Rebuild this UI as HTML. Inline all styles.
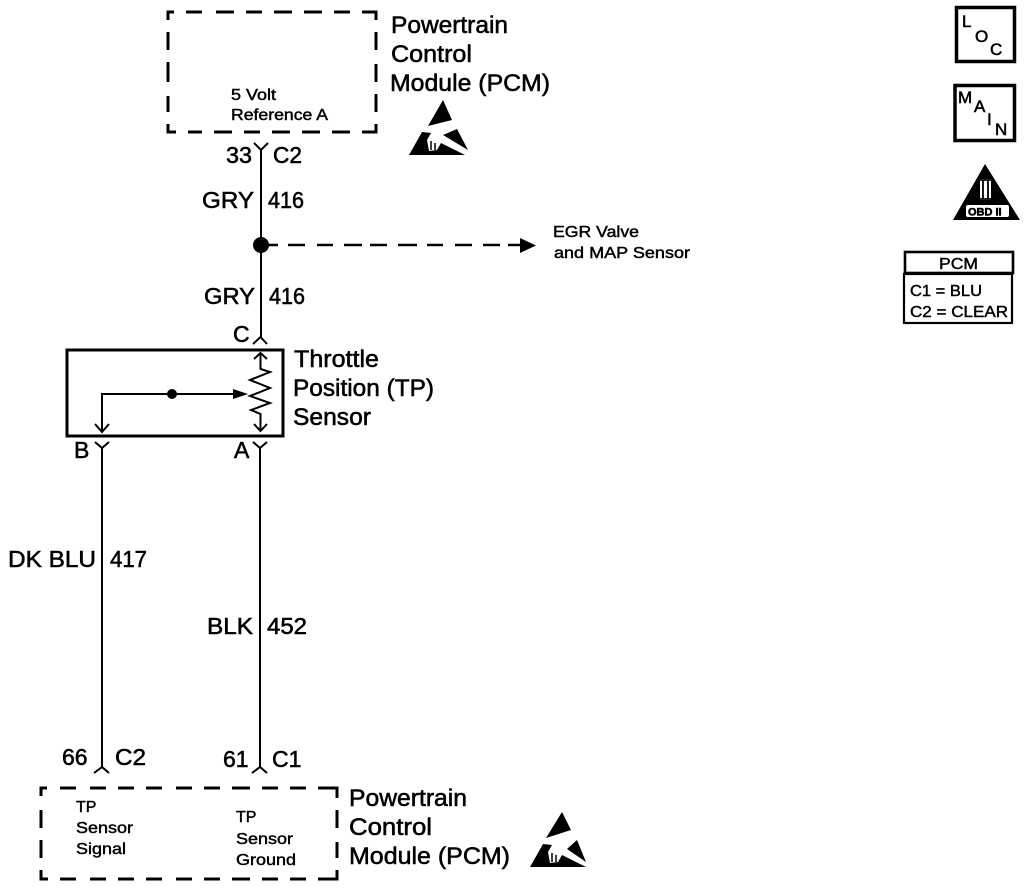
<!DOCTYPE html>
<html><head><meta charset="utf-8"><style>
html,body{margin:0;padding:0;background:#fff}
svg{display:block}
text{font-family:"Liberation Sans",sans-serif;fill:#000;stroke:#000;stroke-width:.55}
.l{font-size:24px}
.m{font-size:23px}
.s{font-size:16px;stroke-width:.45}
</style></head><body>
<svg width="1024" height="888" viewBox="0 0 1024 888" xmlns="http://www.w3.org/2000/svg">
<g fill="none" stroke="#000" stroke-width="3">
<path d="M168 20V12H174M186 12H202M216 12H234M246 12H262M274 12H292M304 12H322M334 12H350M362 12H376V20"/>
<path d="M168 32V50M168 62V82M168 96V112M168 124V132H176M188 132H202M214 132H232M244 132H260M272 132H290M302 132H320M332 132H350M362 132H376V124"/>
<path d="M376 32V50M376 64V82M376 94V112"/>
<path d="M41 796V788H47M60 788H76M90 788H106M118 788H134M146 788H162M176 788H192M204 788H220M232 788H250M262 788H278M290 788H306M318 788H337V798"/>
<path d="M41 810V828M41 840V858M41 870V879H48M60 879H76M90 879H106M118 879H134M146 879H162M176 879H192M204 879H220M232 879H250M262 879H278M290 879H306M318 879H337V870"/>
<path d="M337 810V828M337 842V858"/>
</g>
<g fill="none" stroke="#000" stroke-width="2">
<path d="M261 150V337M254 143L261 150L268 143"/>
<path d="M253 344L260.500 337L267 344"/>
<path d="M260 448V768M253 442L260 448L267 442"/>
<path d="M102 448V768M95 442L102 448L109 442"/>
<path d="M94 773L102 767L109 773"/>
<path d="M252 773L260 767L267 773"/>
</g>
<path d="M262 245H278M288 245H305M317 245H333M344 245H362M370 245H387M398 245H417M427 245H443M455 245H472M483 245H500M508 245H522" fill="none" stroke="#000" stroke-width="2.600"/>
<circle cx="261" cy="245" r="8" fill="#000"/>
<path d="M520 238L536 245.500L520 253Z" fill="#000"/>
<rect x="67" y="350" width="216" height="86" fill="none" stroke="#000" stroke-width="3"/>
<g fill="none" stroke="#000" stroke-width="2">
<path d="M102 431V394H240"/>
<path d="M95 424L102 432L109 424"/>
<path d="M254 359L260.500 353L267 359M260.500 353V369L270 372L250 380L270 388L250 396L270 403L251 410L260.500 414V431M254 424L260.500 431L267 424"/>
</g>
<circle cx="172" cy="394" r="5" fill="#000"/>
<path d="M233 389L248 394L233 399Z" fill="#000"/>
<g fill="#000">
<path d="M443 100L452 120L428 126Z"/>
<path d="M422 132L409 155H465L441 143L437 150L429 151L427 140L431 133Z"/>
<path d="M443 135L457 129L468 150Z"/>
<path d="M562 812L571 830L546 838Z"/>
<path d="M543 844L530 867H586L562 855L558 862L550 863L548 852L552 845Z"/>
<path d="M567 849L577 840L586 862Z"/>
</g>
<path d="M431 141v9M435 143v7M552 853v9M556 855v7" stroke="#000" stroke-width="1.500" fill="none"/>
<text class="l" x="391" y="33" textLength="117" lengthAdjust="spacingAndGlyphs">Powertrain</text>
<text class="l" x="391" y="62" textLength="81" lengthAdjust="spacingAndGlyphs">Control</text>
<text class="l" x="390" y="91" textLength="160" lengthAdjust="spacingAndGlyphs">Module (PCM)</text>
<text class="s" x="231" y="100" textLength="45" lengthAdjust="spacingAndGlyphs">5 Volt</text>
<text class="s" x="231" y="120" textLength="97" lengthAdjust="spacingAndGlyphs">Reference A</text>
<text class="m" x="226" y="163" textLength="26" lengthAdjust="spacingAndGlyphs">33</text>
<text class="m" x="273" y="163" textLength="29" lengthAdjust="spacingAndGlyphs">C2</text>
<text class="m" x="202" y="208" textLength="52" lengthAdjust="spacingAndGlyphs">GRY</text>
<text class="m" x="268" y="208" textLength="36" lengthAdjust="spacingAndGlyphs">416</text>
<text class="m" x="204" y="304" textLength="51" lengthAdjust="spacingAndGlyphs">GRY</text>
<text class="m" x="269" y="304" textLength="36" lengthAdjust="spacingAndGlyphs">416</text>
<text class="s" x="553" y="237" textLength="86" lengthAdjust="spacingAndGlyphs">EGR Valve</text>
<text class="s" x="554" y="258" textLength="136" lengthAdjust="spacingAndGlyphs">and MAP Sensor</text>
<text class="m" x="233" y="342">C</text>
<text class="l" x="294" y="367" textLength="85" lengthAdjust="spacingAndGlyphs">Throttle</text>
<text class="l" x="293" y="396" textLength="141" lengthAdjust="spacingAndGlyphs">Position (TP)</text>
<text class="l" x="293" y="425" textLength="78" lengthAdjust="spacingAndGlyphs">Sensor</text>
<text class="m" x="74" y="458">B</text>
<text class="m" x="234" y="458">A</text>
<text class="m" x="8" y="567" textLength="88" lengthAdjust="spacingAndGlyphs">DK BLU</text>
<text class="m" x="110" y="567" textLength="37" lengthAdjust="spacingAndGlyphs">417</text>
<text class="m" x="207" y="634" textLength="46" lengthAdjust="spacingAndGlyphs">BLK</text>
<text class="m" x="267" y="634" textLength="40" lengthAdjust="spacingAndGlyphs">452</text>
<text class="m" x="62" y="765">66</text>
<text class="m" x="115" y="765" textLength="31" lengthAdjust="spacingAndGlyphs">C2</text>
<text class="m" x="223" y="767">61</text>
<text class="m" x="272" y="767">C1</text>
<text class="s" x="76" y="812">TP</text>
<text class="s" x="76" y="833" textLength="57" lengthAdjust="spacingAndGlyphs">Sensor</text>
<text class="s" x="76" y="854" textLength="50" lengthAdjust="spacingAndGlyphs">Signal</text>
<text class="s" x="236" y="822">TP</text>
<text class="s" x="236" y="844" textLength="57" lengthAdjust="spacingAndGlyphs">Sensor</text>
<text class="s" x="236" y="865" textLength="60" lengthAdjust="spacingAndGlyphs">Ground</text>
<text class="l" x="349" y="806" textLength="118" lengthAdjust="spacingAndGlyphs">Powertrain</text>
<text class="l" x="349" y="835" textLength="83" lengthAdjust="spacingAndGlyphs">Control</text>
<text class="l" x="349" y="864" textLength="161" lengthAdjust="spacingAndGlyphs">Module (PCM)</text>
<rect x="956.500" y="7.500" width="58" height="54" fill="none" stroke="#000" stroke-width="3.500"/>
<rect x="955" y="85.500" width="59.500" height="55" fill="none" stroke="#000" stroke-width="3.500"/>
<text x="962" y="27" style="font-size:17px">L</text>
<text x="975" y="42" style="font-size:17px">O</text>
<text x="990" y="55" style="font-size:17px">C</text>
<text x="958" y="103" style="font-size:17px">M</text>
<text x="974" y="112" style="font-size:17px">A</text>
<text x="987" y="125" style="font-size:17px">I</text>
<text x="995" y="135" style="font-size:17px">N</text>
<path d="M985 164L1020 220H953Z" fill="#000"/>
<rect x="966" y="205" width="43" height="12" rx="2" fill="#fff"/>
<rect x="980" y="179" width="11" height="21" fill="#fff"/>
<path d="M979 180H992M979 199H992M983 180V199M988 180V199" stroke="#000" stroke-width="1.800" fill="none"/>
<text x="968" y="215.500" style="font-size:11px;font-weight:bold">OBD II</text>
<rect x="905" y="252" width="108" height="21" fill="none" stroke="#000" stroke-width="2.600"/>
<rect x="904" y="274" width="108" height="49" fill="none" stroke="#000" stroke-width="2.200"/>
<text class="s" x="939" y="269" textLength="39" lengthAdjust="spacingAndGlyphs">PCM</text>
<text class="s" x="910" y="296" textLength="72" lengthAdjust="spacingAndGlyphs">C1 = BLU</text>
<text class="s" x="910" y="317" textLength="98" lengthAdjust="spacingAndGlyphs">C2 = CLEAR</text>
</svg>
</body></html>
